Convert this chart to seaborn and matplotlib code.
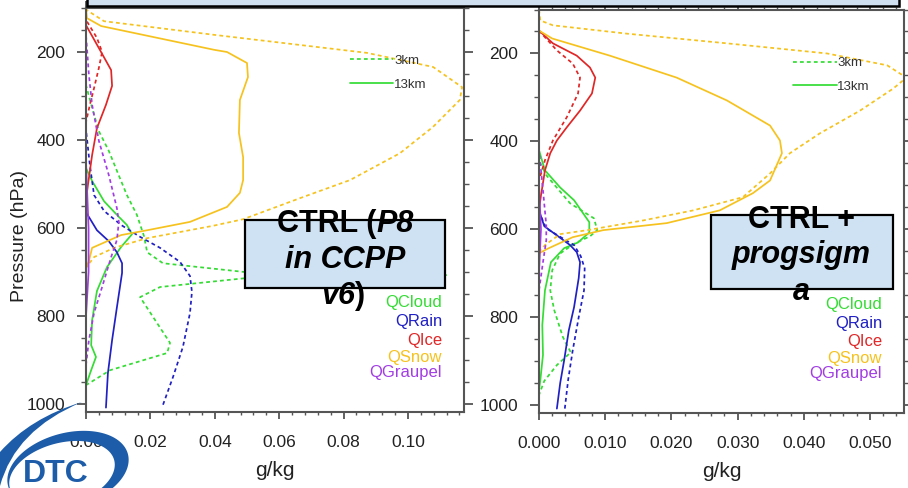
import numpy as np
import pandas as pd
import matplotlib
matplotlib.use("Agg")
import matplotlib.pyplot as plt
import matplotlib.transforms as mtrans
import seaborn as sns
from matplotlib.patches import Rectangle, PathPatch
from matplotlib.path import Path
from matplotlib.lines import Line2D
from matplotlib.offsetbox import TextArea, HPacker, AnnotationBbox
from matplotlib.ticker import MultipleLocator, FormatStrFormatter

# ---------------- data (g/kg vs hPa) ----------------
# CTRL (left panel)
ctrl_cloud_3km_p = [100, 275, 327, 380, 425, 470, 525, 570, 618, 655, 680, 700, 707, 714, 734, 757, 861, 884, 923, 957, 1010]
ctrl_cloud_3km_q = [0, 0, 0.0019, 0.004, 0.0071, 0.0096, 0.0127, 0.0158, 0.018, 0.019, 0.0239, 0.0494, 0.1124, 0.0494, 0.023, 0.0168, 0.0261, 0.0252, 0.0075, 0, 0]
ctrl_cloud_13km_p = [100, 464, 493, 539, 570, 593, 614, 643, 689, 743, 809, 866, 893, 923, 957, 1010]
ctrl_cloud_13km_q = [0, 0, 0.0019, 0.0056, 0.0096, 0.0127, 0.0143, 0.0109, 0.0065, 0.0034, 0.0019, 0.0016, 0.0031, 0.0016, 0, 0]
ctrl_rain_3km_p = [100, 377, 457, 525, 561, 593, 620, 645, 677, 709, 745, 793, 870, 939, 1008]
ctrl_rain_3km_q = [0, 0, 0.0012, 0.0025, 0.0056, 0.0109, 0.0168, 0.023, 0.0292, 0.0323, 0.0329, 0.0323, 0.0301, 0.027, 0.0236]
ctrl_rain_13km_p = [100, 564, 605, 630, 655, 680, 702, 780, 855, 930, 1008]
ctrl_rain_13km_q = [0, 0, 0.0034, 0.0071, 0.0096, 0.0112, 0.0112, 0.0096, 0.0081, 0.0068, 0.0062]
ctrl_ice_3km_p = [100, 127, 168, 200, 236, 282, 320, 359, 1010]
ctrl_ice_3km_q = [0, 0, 0.0034, 0.005, 0.004, 0.0025, 0.0012, 0, 0]
ctrl_ice_13km_p = [100, 139, 195, 241, 277, 320, 373, 434, 502, 536, 1010]
ctrl_ice_13km_q = [0, 0, 0.0043, 0.0078, 0.0081, 0.0062, 0.0034, 0.0019, 0.0006, 0, 0]
ctrl_snow_3km_p = [100, 105, 130, 161, 202, 234, 280, 309, 370, 430, 491, 532, 580, 595, 623, 645, 666, 690, 1010]
ctrl_snow_3km_q = [0, 0.0003, 0.0056, 0.0398, 0.0873, 0.1078, 0.1168, 0.1161, 0.1078, 0.0975, 0.082, 0.0665, 0.0488, 0.0394, 0.019, 0.0087, 0.0025, 0, 0]
ctrl_snow_13km_p = [100, 123, 141, 195, 200, 225, 257, 309, 384, 439, 491, 520, 552, 586, 605, 616, 645, 675, 691, 1010]
ctrl_snow_13km_q = [0, 0.0003, 0.0047, 0.0398, 0.0438, 0.050, 0.0503, 0.0478, 0.0475, 0.0488, 0.0488, 0.0478, 0.0438, 0.0323, 0.019, 0.0109, 0.0019, 0.0009, 0, 0]
ctrl_graupel_3km_p = [100, 161, 252, 320, 402, 480, 555, 586, 627, 666, 734, 793, 855, 911, 1010]
ctrl_graupel_3km_q = [0, 0, 0.0009, 0.0019, 0.004, 0.0071, 0.0096, 0.0102, 0.0096, 0.0078, 0.005, 0.0025, 0.0009, 0, 0]
ctrl_graupel_13km_p = [100, 450, 600, 700, 800, 1010]
ctrl_graupel_13km_q = [0, 0, 0.0008, 0.0008, 0, 0]

# CTRL + progsigma (right panel)
psig_cloud_3km_p = [100, 443, 477, 541, 575, 602, 616, 632, 655, 693, 739, 784, 845, 880, 909, 945, 977, 1010]
psig_cloud_3km_q = [0, 0, 0.0011, 0.0047, 0.0083, 0.0088, 0.0077, 0.0054, 0.0032, 0.002, 0.0017, 0.0023, 0.0036, 0.0048, 0.0027, 0.0008, 0, 0]
psig_cloud_13km_p = [100, 420, 466, 505, 534, 584, 607, 630, 643, 675, 739, 818, 886, 943, 966, 1010]
psig_cloud_13km_q = [0, 0, 0.0009, 0.0032, 0.0053, 0.0076, 0.0076, 0.0059, 0.0038, 0.0018, 0.0009, 0.0005, 0.0006, 0.0002, 0, 0]
psig_rain_3km_p = [100, 561, 598, 620, 636, 661, 689, 739, 800, 875, 943, 1008]
psig_rain_3km_q = [0, 0, 0.0011, 0.0035, 0.0053, 0.0063, 0.0069, 0.0068, 0.006, 0.0051, 0.0044, 0.0039]
psig_rain_13km_p = [100, 557, 593, 614, 636, 652, 675, 711, 777, 830, 898, 950, 1008]
psig_rain_13km_q = [0, 0, 0.0008, 0.0027, 0.0047, 0.0057, 0.0062, 0.006, 0.0053, 0.0045, 0.0038, 0.0032, 0.0027]
psig_ice_3km_p = [100, 148, 193, 223, 255, 291, 345, 398, 443, 489, 1010]
psig_ice_3km_q = [0, 0, 0.0027, 0.0051, 0.0062, 0.0059, 0.0042, 0.0021, 0.0009, 0, 0]
psig_ice_13km_p = [100, 148, 177, 205, 232, 255, 291, 330, 368, 398, 427, 466, 523, 557, 1010]
psig_ice_13km_q = [0, 0, 0.0021, 0.0057, 0.0077, 0.0085, 0.008, 0.0062, 0.0042, 0.0027, 0.0017, 0.0009, 0.0003, 0, 0]
psig_snow_3km_p = [100, 125, 136, 155, 177, 200, 227, 255, 280, 330, 382, 427, 473, 527, 557, 580, 602, 611, 636, 652, 1010]
psig_snow_3km_q = [0, 0.0002, 0.0021, 0.0133, 0.0284, 0.0435, 0.0526, 0.0555, 0.0535, 0.0485, 0.0424, 0.0379, 0.0349, 0.0308, 0.0233, 0.0157, 0.0073, 0.0032, 0.0009, 0, 0]
psig_snow_13km_p = [100, 148, 166, 205, 255, 307, 364, 398, 427, 489, 518, 557, 586, 602, 618, 645, 655, 1010]
psig_snow_13km_q = [0, 0, 0.002, 0.0107, 0.0208, 0.0284, 0.0349, 0.0364, 0.0367, 0.0349, 0.0323, 0.0273, 0.0193, 0.0097, 0.0051, 0.0012, 0, 0]
psig_graupel_3km_p = [100, 420, 511, 591, 625, 675, 739, 1010]
psig_graupel_3km_q = [0, 0, 0.0006, 0.0011, 0.0011, 0.0006, 0, 0]
psig_graupel_13km_p = [100, 500, 600, 700, 1010]
psig_graupel_13km_q = [0, 0, 0.0003, 0, 0]

species = ["QCloud", "QRain", "QIce", "QSnow", "QGraupel"]
resolutions = ["3km", "13km"]
left_xticks = [0.00, 0.02, 0.04, 0.06, 0.08, 0.10]
right_xticks = [0.000, 0.010, 0.020, 0.030, 0.040, 0.050]
yticks = [200, 400, 600, 800, 1000]

colors = {"QCloud": "#34dc34", "QRain": "#2020c4", "QIce": "#e02626",
          "QSnow": "#f6c21e", "QGraupel": "#a23ce4"}

def build(prefix):
    g = globals()
    rows = []
    for sp in species:
        key = sp[1:].lower()
        for res in resolutions:
            p = g[f"{prefix}_{key}_{res}_p"]
            q = g[f"{prefix}_{key}_{res}_q"]
            for pi, qi in zip(p, q):
                rows.append(dict(species=sp, res=res, p=pi, q=qi))
    return pd.DataFrame(rows)

df_left = build("ctrl")
df_right = build("psig")

# ---------------- figure ----------------
sns.set_theme(style="white")
plt.rcParams["font.family"] = ["Liberation Sans", "DejaVu Sans"]

W, H = 908, 488
fig = plt.figure(figsize=(W / 100, H / 100), dpi=100)
fig.patch.set_facecolor("white")

# pixel (y down) -> figure transform
pix = mtrans.Affine2D().scale(1 / W, -1 / H).translate(0, 1) + fig.transFigure

axL = fig.add_axes([86 / W, 1 - 412 / H, 378 / W, 404 / H])
axR = fig.add_axes([539 / W, 1 - 413 / H, 365 / W, 403.5 / H])

def draw_panel(ax, df, xmax, xticks, xminor, fmt):
    for sp in species:
        for res in resolutions:
            d = df[(df.species == sp) & (df.res == res)]
            ls = "-" if res == "13km" else (0, (2.2, 1.8))
            sns.lineplot(data=d, x="q", y="p", ax=ax, orient="y", sort=False,
                         estimator=None, color=colors[sp], linewidth=1.25,
                         linestyle=ls, legend=False)
    ax.set_xlim(0, xmax)
    ax.set_ylim(1018, 100)
    ax.set_xticks(xticks)
    ax.xaxis.set_major_formatter(FormatStrFormatter(fmt))
    ax.xaxis.set_minor_locator(MultipleLocator(xminor))
    ax.set_yticks(yticks)
    ax.yaxis.set_minor_locator(MultipleLocator(50))
    ax.tick_params(which="both", direction="out", top=True, right=True,
                   bottom=True, left=True,
                   labeltop=False, labelright=False, color="#555555",
                   labelcolor="#222222", labelsize=12.5)
    ax.tick_params(axis="y", which="major", length=6.5, width=1.3, pad=8.5)
    ax.tick_params(axis="y", which="minor", length=3.5, width=1.0)
    ax.tick_params(axis="x", which="major", length=5, width=1.3, pad=11.5)
    ax.tick_params(axis="x", which="minor", length=2.5, width=1.0)
    for s in ax.spines.values():
        s.set_color("#555555")
        s.set_linewidth(1.5)
    ax.set_xlabel("g/kg", fontsize=15, color="#222222")
    ax.xaxis.set_label_coords(0.5, -0.121)
    ax.set_ylabel("")
    ax.grid(False)

draw_panel(axL, df_left, 0.1174, left_xticks, 0.004, "%.2f")
draw_panel(axR, df_right, 0.05514, right_xticks, 0.002, "%.3f")

axL.set_ylabel("Pressure (hPa)", fontsize=14, color="#222222")
axL.yaxis.set_label_coords(-0.153, 0.436)

# resolution legends
for ax, xa, ya in [(axL, 0.698, 0.884), (axR, 0.696, 0.882)]:
    handles = [Line2D([], [], color=colors["QCloud"], lw=1.25, ls=(0, (2.2, 1.8))),
               Line2D([], [], color=colors["QCloud"], lw=1.25, ls="-")]
    ax.legend(handles, resolutions, loc="upper left", bbox_to_anchor=(xa, ya),
              frameon=False, handlelength=3.3, handletextpad=0.05,
              labelspacing=0.85, borderaxespad=0, borderpad=0,
              fontsize=9.5, labelcolor="#333333")

# species labels
for ax, xa, ys in [(axL, 0.942, [0.270, 0.223, 0.178, 0.136, 0.097]),
                   (axR, 0.940, [0.268, 0.221, 0.176, 0.136, 0.099])]:
    for sp, yv in zip(species, ys):
        ax.text(xa, yv, sp, transform=ax.transAxes, ha="right", va="center",
                fontsize=12, color=colors[sp])

# top title box (cut off at image top)
fig.add_artist(Rectangle((87, -8), 812, 14, transform=pix, facecolor="#cfdff0",
                         edgecolor="black", linewidth=1.8, clip_on=False))

# annotation boxes
fig.add_artist(Rectangle((245, 220), 200, 68, transform=pix, facecolor="#cfe2f3",
                         edgecolor="black", linewidth=1.6, zorder=3))
fig.add_artist(Rectangle((711, 215), 182, 74, transform=pix, facecolor="#cfe2f3",
                         edgecolor="black", linewidth=1.6, zorder=3))

B = dict(fontsize=22, fontweight="bold", color="black")
BI = dict(fontsize=22, fontweight="bold", fontstyle="italic", color="black")

def line(parts, cx, cy):
    box = HPacker(children=[TextArea(t, textprops=p) for t, p in parts],
                  pad=0, sep=0, align="baseline")
    ab = AnnotationBbox(box, (cx / W, 1 - cy / H), xycoords="figure fraction",
                        frameon=False, box_alignment=(0.5, 0.5), pad=0, zorder=4)
    fig.add_artist(ab)

line([("CTRL (", B), ("P8", BI)], 345, 224)
line([("in CCPP", BI)], 345, 260)
line([("v6", BI), (")", B)], 343, 296)
line([("CTRL +", B)], 802, 220)
line([("progsigm", BI)], 801, 255)
line([("a", BI)], 801, 292)

# DTC logo
blue = "#1c5ca8"
sw = Path([(0, 452), (30, 418), (82, 402), (15, 430), (0, 486), (0, 452)],
          [Path.MOVETO, Path.CURVE3, Path.CURVE3, Path.CURVE3, Path.CURVE3, Path.CLOSEPOLY])
fig.add_artist(PathPatch(sw, transform=pix, facecolor=blue, edgecolor="none", zorder=5))

def ell(cx, cy, a, b, th, rev=False):
    phi = np.linspace(0, 2 * np.pi, 160)
    if rev:
        phi = phi[::-1]
    t = np.deg2rad(th)
    x = cx + a * np.cos(phi) * np.cos(t) - b * np.sin(phi) * np.sin(t)
    y = cy + a * np.cos(phi) * np.sin(t) + b * np.sin(phi) * np.cos(t)
    return np.column_stack([x, y])

o = ell(68, 470, 62, 37, -15)
i = ell(62, 474, 54, 31, -15, rev=True)
verts = np.vstack([o, i])
codes = ([Path.MOVETO] + [Path.LINETO] * (len(o) - 1)
         + [Path.MOVETO] + [Path.LINETO] * (len(i) - 1))
fig.add_artist(PathPatch(Path(verts, codes), transform=pix, facecolor=blue,
                         edgecolor="none", zorder=5))
fig.text(56 / W, 1 - 482 / H, "DTC", ha="center", va="baseline", fontsize=23,
         fontweight="bold", color=blue, zorder=6)

fig.savefig("out.png", dpi=100)
